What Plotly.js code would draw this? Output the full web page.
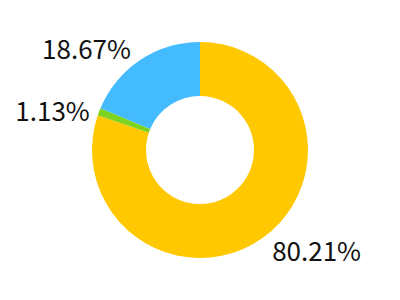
<!DOCTYPE html>
<html><head><meta charset="utf-8">
<script src="https://cdn.plot.ly/plotly-3.0.1.min.js"></script>
<style>html,body{margin:0;padding:0;background:#fff}#chart{width:400px;height:300px}</style>
</head><body><div id="chart"></div>
<script>
const labels = ["A", "B", "C"];
const values = [80.21, 1.13, 18.67];
const percentText = ["80.21%", "1.13%", "18.67%"];
const colors = ["#FFC800", "#7ED321", "#45BBFF"];

Plotly.newPlot("chart", [{
  type: "pie",
  labels: labels,
  values: values,
  text: percentText,
  textinfo: "text",
  hole: 0.5,
  sort: false,
  direction: "clockwise",
  rotation: 0,
  marker: {colors: colors, line: {width: 0}},
  textposition: "outside",
  textfont: {family: "Noto Sans CJK SC, sans-serif", size: 26, color: "#111"},
  outsidetextfont: {family: "Noto Sans CJK SC, sans-serif", size: 26, color: "#111"},
  automargin: false,
  showlegend: false,
  hoverinfo: "none"
}], {
  width: 400, height: 300,
  margin: {l: 92, r: 92, t: 42, b: 42},
  paper_bgcolor: "#fff",
  showlegend: false
}, {displayModeBar: false, staticPlot: true});
</script></body></html>
